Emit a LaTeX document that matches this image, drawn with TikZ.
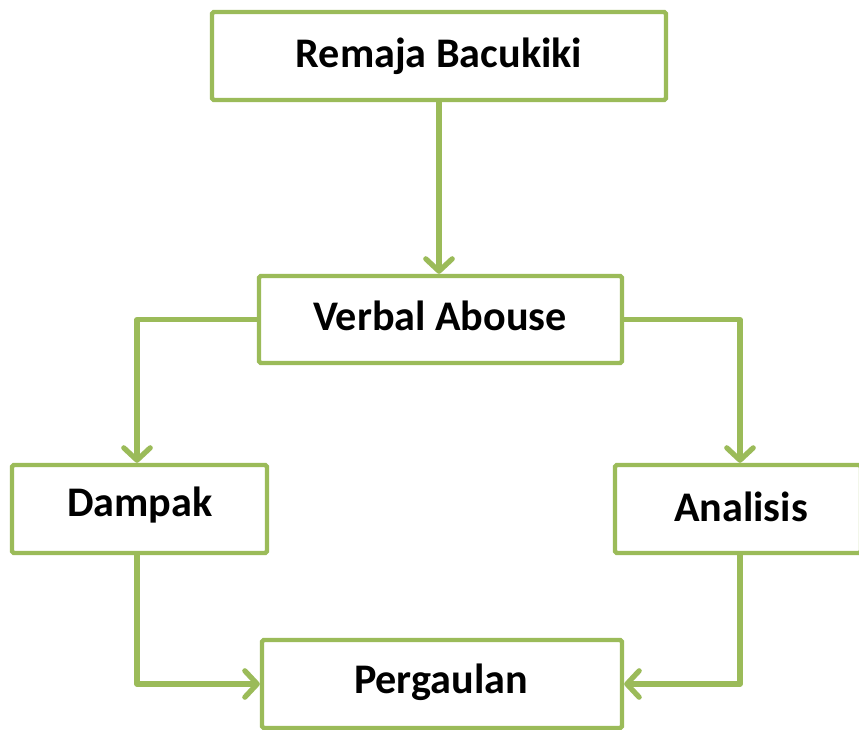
\documentclass[tikz,border=0pt]{standalone}
\usepackage{fontspec}
\setmainfont{Carlito}
\usepackage{tikz}
\usetikzlibrary{arrows.meta}
\definecolor{olivegreen}{HTML}{9BBB59}
\tikzset{
  box/.style={draw=olivegreen,line width=2.5pt,fill=white,rounded corners=1pt,
    inner sep=0pt,font=\fontsize{24}{28}\selectfont\bfseries},
  label/.style={font=\fontsize{24}{28}\selectfont\bfseries},
  link/.style={olivegreen,line width=3pt,line cap=round,line join=round,
    -{Straight Barb[length=7pt,width=15pt,line width=3pt,round]}}
}
\begin{document}
\begin{tikzpicture}[x=0.02cm,y=-0.02cm]
  \useasboundingbox (0,0) rectangle (859,730);
  % boxes
  \node[box,minimum width=454*0.02cm,minimum height=88*0.02cm] (remaja) at (439,56) {Remaja Bacukiki};
  \node[box,minimum width=363*0.02cm,minimum height=87*0.02cm] (verbal) at (440.5,319.5) {};
  \node[label] (verbaltxt) at (440,316) {Verbal Abouse};
  \node[box,minimum width=255*0.02cm,minimum height=88*0.02cm] (dampak) at (139.5,509) {};
  \node[label] (dampaktxt) at (140,505) {Dampak};
  \node[box,minimum width=246*0.02cm,minimum height=88*0.02cm] (analisis) at (738,509) {};
  \node[label] (analisistxt) at (741,507) {Analisis};
  \node[box,minimum width=360*0.02cm,minimum height=88*0.02cm] (pergaulan) at (442,684) {};
  \node[label] (pergaulantxt) at (441,682) {Pergaulan};
  % connectors
  \draw[link] (remaja.south) -- (remaja.south |- verbal.north);
  \draw[link] (verbal.west) -| (dampak.north -| 137,0);
  \draw[link] (verbal.east) -| (analisis.north -| 740,0);
  \draw[link] (dampak.south -| 137,0) |- (pergaulan.west);
  \draw[link] (analisis.south -| 740,0) |- (pergaulan.east);
\end{tikzpicture}
\end{document}
